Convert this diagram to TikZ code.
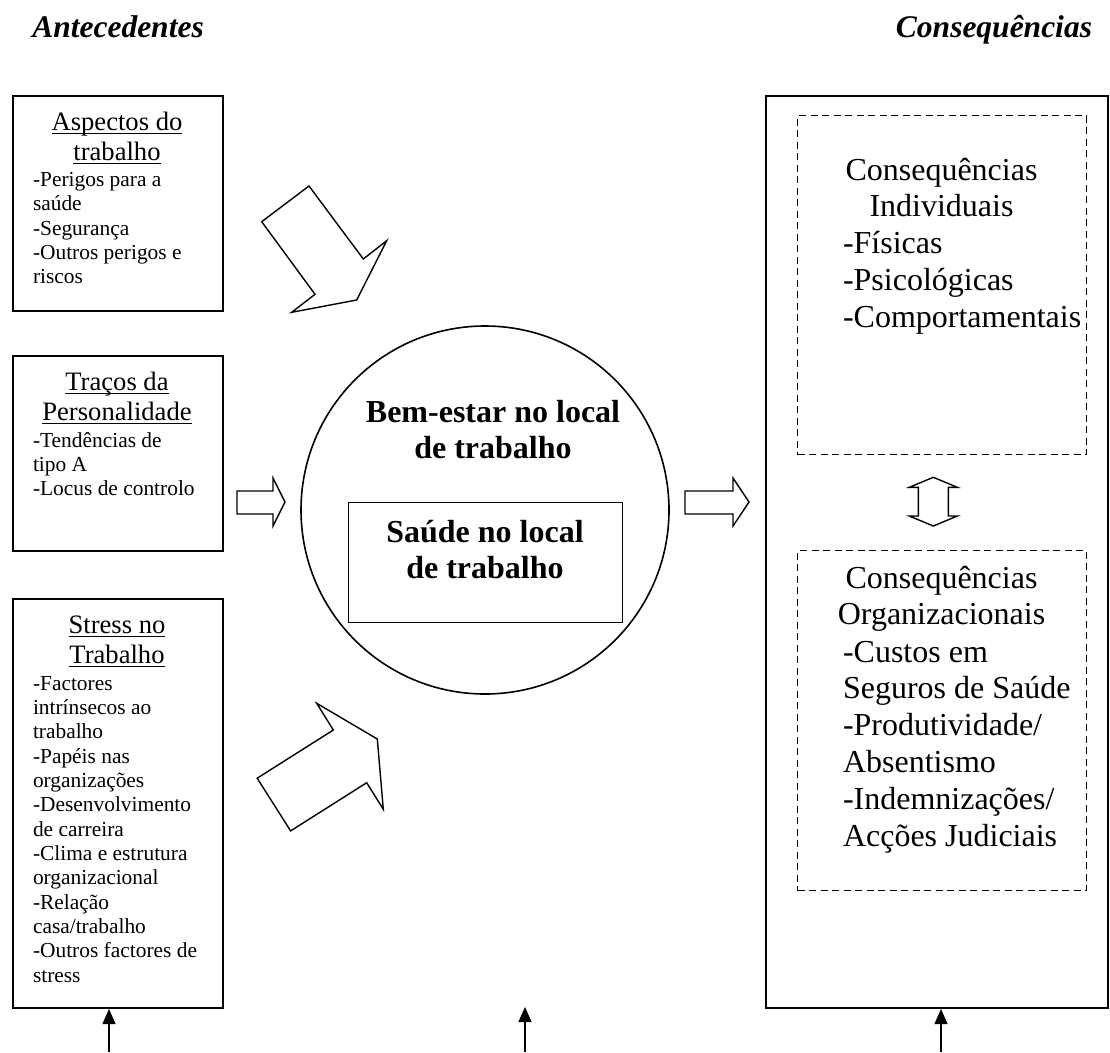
\documentclass[tikz,border=0pt]{standalone}
\usepackage{fontspec}
\setmainfont{Liberation Serif}
\usetikzlibrary{arrows.meta}

\newcommand\myul[1]{\setbox0\hbox{#1}\rlap{\rule[-3.8pt]{\wd0}{1.3pt}}\box0}
\newcommand\colL[1]{\vtop{\halign{##\hfil\cr#1\crcr}}}
\newcommand\colC[1]{\vtop{\halign{\hfil##\hfil\cr#1\crcr}}}
\newcommand\fTitle{\fontsize{31.5}{36}\selectfont\bfseries\itshape}
\newcommand\fBoxT{\fontsize{26.6}{30}\selectfont}
\newcommand\fList{\fontsize{21.4}{24.35}\selectfont}
\newcommand\fBig{\fontsize{32}{36.8}\selectfont}
\newcommand\fBold{\fontsize{32}{36.5}\selectfont\bfseries}

\begin{document}
\begin{tikzpicture}[x=1pt,y=-1pt,
  box/.style={draw,line width=2pt,inner sep=0pt,anchor=north west},
  dbox/.style={draw,line width=1.3pt,dash pattern=on 7pt off 4.5pt,inner sep=0pt,anchor=north west},
  blk/.style={draw,line width=1.4pt,line join=miter,fill=white},
  txt/.style={inner sep=0pt,outer sep=0pt},
  up/.style={-{Triangle[length=15pt,width=13pt]},line width=1.2pt}]
\useasboundingbox (0,0) rectangle (1110,1052);
\fill[white] (0,0) rectangle (1110,1052);

% headings
\node[txt,anchor=base] (tA) at (118,37) {\fTitle Antecedentes};
\node[txt,anchor=base east] (tC) at (1092,37) {\fTitle Consequências};

% left boxes
\node[box,minimum width=210pt,minimum height=215pt] (b1) at (12,95) {};
\node[box,minimum width=210pt,minimum height=195pt] (b2) at (12,355) {};
\node[box,minimum width=210pt,minimum height=409pt] (b3) at (12,598) {};

\node[txt,anchor=base] (b1t) at (117,130) {\fBoxT\colC{\myul{Aspectos do}\cr\myul{trabalho}}};
\node[txt,anchor=base west] (b1l) at (33,186.5) {\fList\colL{-Perigos para a\cr saúde\cr -Segurança\cr -Outros perigos e\cr riscos}};

\node[txt,anchor=base] (b2t) at (117,390) {\fBoxT\colC{\myul{Traços da}\cr\myul{Personalidade}}};
\node[txt,anchor=base west] (b2l) at (33,447) {\fList\colL{-Tendências de\cr tipo A\cr -Locus de controlo}};

\node[txt,anchor=base] (b3t) at (117,633) {\fBoxT\colC{\myul{Stress no}\cr\myul{Trabalho}}};
\node[txt,anchor=base west] (b3l) at (33,690) {\fList\colL{-Factores\cr intrínsecos ao\cr trabalho\cr -Papéis nas\cr organizações\cr -Desenvolvimento\cr de carreira\cr -Clima e estrutura\cr organizacional\cr -Relação\cr casa/trabalho\cr -Outros factores de\cr stress}};

% centre
\node[draw,circle,line width=1.6pt,minimum size=368pt,inner sep=0pt] (c) at (485,510) {};
\node[txt,anchor=base] (ct) at (493,422) {\fBold\colC{Bem-estar no local\cr de trabalho}};
\node[draw,line width=1.4pt,inner sep=0pt,anchor=north west,minimum width=274pt,minimum height=120pt] (ib) at (348,502) {};
\node[txt,anchor=base] (it) at (485,542) {\fBold\colC{Saúde no local\cr de trabalho}};

% right side
\node[box,minimum width=342pt,minimum height=912pt] (bb) at (765,95) {};
\node[dbox,minimum width=289pt,minimum height=339pt] (d1) at (797,115) {};
\node[dbox,minimum width=289pt,minimum height=340pt] (d2) at (797,550) {};

\node[txt,anchor=base] (d1t) at (941.5,180) {\fBig\colC{Consequências\cr Individuais}};
\node[txt,anchor=base west] (d1l) at (843,253.6) {\fBig\colL{-Físicas\cr -Psicológicas\cr -Comportamentais}};

\node[txt,anchor=base] (d2t) at (941.5,588) {\fBig\colC{Consequências\cr Organizacionais}};
\node[txt,anchor=base west] (d2l) at (843,662) {\fBig\colL{-Custos em\cr Seguros de Saúde\cr -Produtividade/\cr Absentismo\cr -Indemnizações/\cr Acções Judiciais}};

% block arrows
\draw[blk] (261.7,221.7) -- (309,186) -- (363.3,259) -- (386.7,240.7) -- (356.7,300) -- (291.7,312.3) -- (315,294.3) -- cycle;
\draw[blk] (237,491) -- (273,491) -- (273,478) -- (285,502) -- (273,526) -- (273,514) -- (237,514) -- cycle;
\draw[blk] (257.2,778.2) -- (333.3,730) -- (316.7,703.3) -- (377.3,739) -- (383.3,809.3) -- (366.7,782.7) -- (290.6,830.9) -- cycle;
\draw[blk] (685,491) -- (733,491) -- (733,478) -- (749,502) -- (733,526) -- (733,514) -- (685,514) -- cycle;
\draw[blk] (933.3,477.3) -- (957.3,487.3) -- (948.3,487.3) -- (948.3,516) -- (957.3,516) -- (933.3,526) -- (909.3,516) -- (918.3,516) -- (918.3,487.3) -- (909.3,487.3) -- cycle;

% bottom arrows
\coordinate (f1) at (109,1052);
\coordinate (f2) at (525,1052);
\coordinate (t2) at (525,1007);
\coordinate (f3) at (941,1052);
\draw[up] (f1) -- (f1 |- b3.south);
\draw[up] (f2) -- (t2);
\draw[up] (f3) -- (f3 |- bb.south);
\end{tikzpicture}
\end{document}
